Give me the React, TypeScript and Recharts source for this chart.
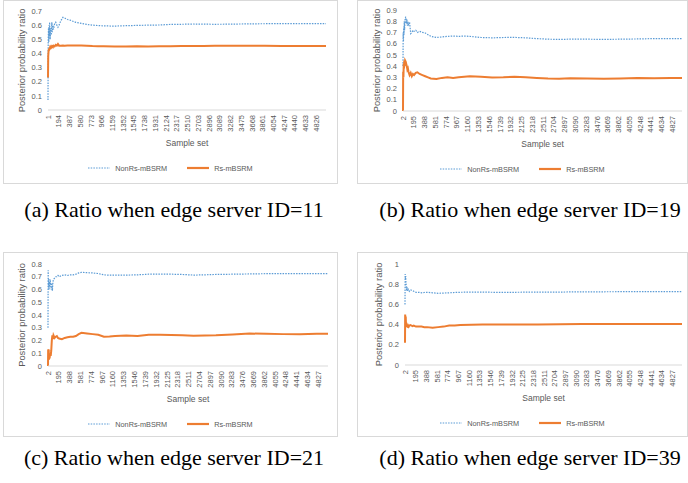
import { LineChart, Line, XAxis, YAxis, Legend, Label } from "recharts";

// x tick labels (every 193rd sample)
const ticksFrom1 = [1, 194, 387, 580, 773, 966, 1159, 1352, 1545, 1738, 1931, 2124, 2317, 2510, 2703, 2896, 3089, 3282, 3475, 3668, 3861, 4054, 4247, 4440, 4633, 4826];
const ticksFrom2 = [2, 195, 388, 581, 774, 967, 1160, 1353, 1546, 1739, 1932, 2125, 2318, 2511, 2704, 2897, 3090, 3283, 3476, 3669, 3862, 4055, 4248, 4441, 4634, 4827];

const yTicksA = [0, 0.1, 0.2, 0.3, 0.4, 0.5, 0.6, 0.7];
const yTicksB = [0, 0.1, 0.2, 0.3, 0.4, 0.5, 0.6, 0.7, 0.8, 0.9];
const yTicksC = [0, 0.1, 0.2, 0.3, 0.4, 0.5, 0.6, 0.7, 0.8];
const yTicksD = [0, 0.2, 0.4, 0.6, 0.8, 1];

// (a) edge server ID=11
const samplesA = [1, 5, 10, 15, 20, 25, 30, 40, 50, 60, 70, 80, 90, 100, 120, 140, 160, 180, 200, 230, 270, 300, 350, 400, 500, 600, 700, 800, 900, 1000, 1200, 1400, 1600, 1800, 2000, 2200, 2400, 2600, 2800, 3000, 3300, 3600, 3900, 4200, 4500, 4800, 5000];
const nonRsA = [0.07, 0.5, 0.58, 0.48, 0.6, 0.52, 0.62, 0.5, 0.58, 0.53, 0.62, 0.55, 0.6, 0.57, 0.61, 0.62, 0.6, 0.585, 0.6, 0.63, 0.655, 0.65, 0.64, 0.635, 0.62, 0.612, 0.605, 0.6, 0.597, 0.595, 0.593, 0.596, 0.598, 0.6, 0.601, 0.605, 0.606, 0.608, 0.607, 0.606, 0.607, 0.609, 0.61, 0.611, 0.61, 0.611, 0.61];
const rsA = [0.23, 0.38, 0.41, 0.43, 0.42, 0.44, 0.43, 0.445, 0.44, 0.45, 0.445, 0.45, 0.445, 0.455, 0.45, 0.46, 0.455, 0.466, 0.455, 0.455, 0.456, 0.455, 0.456, 0.456, 0.456, 0.456, 0.455, 0.452, 0.45, 0.45, 0.449, 0.449, 0.45, 0.449, 0.45, 0.451, 0.452, 0.453, 0.453, 0.454, 0.454, 0.454, 0.454, 0.453, 0.453, 0.453, 0.453];

// (b) edge server ID=19
const samplesB = [2, 5, 10, 15, 20, 25, 30, 40, 50, 60, 70, 80, 90, 100, 120, 140, 160, 180, 200, 230, 260, 300, 350, 400, 450, 500, 600, 700, 800, 900, 1000, 1100, 1200, 1400, 1600, 1800, 2000, 2200, 2400, 2600, 2800, 3000, 3300, 3600, 3900, 4200, 4500, 4800, 5001];
const nonRsB = [0.4, 0.7, 0.62, 0.75, 0.68, 0.8, 0.72, 0.82, 0.84, 0.78, 0.82, 0.76, 0.8, 0.77, 0.79, 0.69, 0.7, 0.72, 0.71, 0.72, 0.7, 0.71, 0.7, 0.695, 0.68, 0.665, 0.655, 0.66, 0.665, 0.668, 0.665, 0.668, 0.665, 0.655, 0.652, 0.655, 0.656, 0.652, 0.645, 0.64, 0.638, 0.64, 0.64, 0.638, 0.64, 0.642, 0.645, 0.645, 0.645];
const rsB = [0, 0.35, 0.3, 0.42, 0.38, 0.45, 0.4, 0.45, 0.44, 0.42, 0.4, 0.37, 0.38, 0.35, 0.32, 0.34, 0.31, 0.33, 0.32, 0.34, 0.345, 0.33, 0.32, 0.31, 0.3, 0.29, 0.285, 0.295, 0.3, 0.295, 0.3, 0.305, 0.31, 0.305, 0.298, 0.3, 0.305, 0.3, 0.295, 0.29, 0.288, 0.292, 0.29, 0.288, 0.29, 0.295, 0.292, 0.293, 0.295];

// (c) edge server ID=21
const samplesC = [2, 5, 10, 15, 20, 25, 30, 40, 50, 60, 70, 80, 90, 100, 120, 140, 160, 180, 200, 250, 300, 350, 400, 450, 500, 550, 600, 700, 800, 900, 1000, 1100, 1200, 1400, 1600, 1800, 2000, 2200, 2400, 2600, 2800, 3000, 3300, 3600, 3900, 4200, 4500, 4800, 5001];
const nonRsC = [0.3, 0.75, 0.62, 0.68, 0.6, 0.66, 0.62, 0.68, 0.63, 0.6, 0.65, 0.59, 0.66, 0.68, 0.69, 0.7, 0.7, 0.71, 0.7, 0.71, 0.715, 0.71, 0.715, 0.715, 0.72, 0.73, 0.735, 0.732, 0.73, 0.725, 0.715, 0.712, 0.712, 0.713, 0.715, 0.72, 0.72, 0.72, 0.718, 0.713, 0.715, 0.718, 0.72, 0.722, 0.724, 0.725, 0.725, 0.725, 0.725];
const rsC = [0, 0.13, 0.1, 0.13, 0.05, 0.08, 0.06, 0.1, 0.08, 0.12, 0.2, 0.24, 0.21, 0.24, 0.22, 0.23, 0.235, 0.22, 0.215, 0.21, 0.22, 0.225, 0.23, 0.23, 0.235, 0.25, 0.26, 0.255, 0.25, 0.245, 0.23, 0.232, 0.235, 0.24, 0.235, 0.245, 0.245, 0.243, 0.242, 0.238, 0.24, 0.242, 0.248, 0.255, 0.252, 0.25, 0.25, 0.252, 0.252];

// (d) edge server ID=39
const samplesD = [2, 5, 10, 15, 20, 25, 30, 40, 50, 60, 70, 80, 100, 120, 140, 160, 180, 200, 250, 300, 350, 400, 500, 600, 700, 800, 900, 1000, 1200, 1400, 1600, 1800, 2000, 2400, 2800, 3200, 3600, 4000, 4400, 4800, 5001];
const nonRsD = [0.6, 0.9, 0.85, 0.88, 0.8, 0.78, 0.75, 0.76, 0.73, 0.75, 0.74, 0.73, 0.745, 0.74, 0.735, 0.73, 0.725, 0.72, 0.72, 0.715, 0.718, 0.72, 0.715, 0.71, 0.712, 0.715, 0.718, 0.72, 0.722, 0.722, 0.72, 0.72, 0.72, 0.722, 0.722, 0.725, 0.725, 0.726, 0.727, 0.727, 0.727];
const rsD = [0.22, 0.5, 0.45, 0.48, 0.4, 0.42, 0.38, 0.4, 0.37, 0.39, 0.38, 0.39, 0.395, 0.39, 0.385, 0.39, 0.385, 0.38, 0.38, 0.38, 0.375, 0.375, 0.37, 0.375, 0.38, 0.39, 0.39, 0.395, 0.398, 0.4, 0.4, 0.4, 0.4, 0.4, 0.403, 0.405, 0.406, 0.406, 0.405, 0.406, 0.406];

const GRAY = "#595959";
const BLUE = "#5b9bd5";
const ORANGE = "#ed7d31";
const DOTS = "1.5 1.2";

const RotTick = (props: any) => {
  const { x, y, payload } = props;
  return (
    <text x={x} y={y} transform={`rotate(-90, ${x}, ${y})`} textAnchor="end" dy="0.35em" fontSize={7.5} fill={GRAY}>
      {payload.value}
    </text>
  );
};

const renderLegend = (props: any) => {
  const { payload } = props;
  return (
    <div style={{ display: "flex", justifyContent: "center", alignItems: "center", height: 14, gap: 20, fontSize: 7.3, color: GRAY }}>
      {payload.map((entry: any) => {
        const solid = entry.dataKey === "rs";
        return (
          <div key={entry.value} style={{ display: "flex", alignItems: "center" }}>
            <svg width={22} height={6}>
              <line x1={0} y1={3} x2={22} y2={3} stroke={entry.color} strokeWidth={solid ? 2.2 : 1.2} strokeDasharray={solid ? undefined : DOTS} />
            </svg>
            <span style={{ marginLeft: 5 }}>{entry.value}</span>
          </div>
        );
      })}
    </div>
  );
};

type Box = { left: number; top: number; width: number; height: number };
type Plot = { left: number; right: number; top: number; bottom: number };

function Panel(props: { box: Box; plot: Plot; samples: number[]; nonRs: number[]; rs: number[]; yTicks: number[]; xTicks: number[] }) {
  const { box, plot, samples, nonRs, rs, yTicks, xTicks } = props;
  const data = samples.map((s, i) => ({ sample: s, nonRs: nonRs[i], rs: rs[i] }));
  const ox = box.left + 1;
  const oy = box.top + 1;
  const W = box.width - 2;
  const H = box.height - 2;
  const legendTop = plot.bottom + 51 - oy;
  const margin = {
    top: plot.top - oy,
    left: plot.left - ox - 30,
    right: ox + W - plot.right,
    bottom: H - legendTop - 14,
  };
  return (
    <div style={{ position: "absolute", left: box.left, top: box.top, width: box.width, height: box.height, border: "1px solid #d9d9d9", boxSizing: "border-box" }}>
      <LineChart width={W} height={H} data={data} margin={margin}>
        <XAxis
          dataKey="sample"
          type="number"
          domain={[samples[0], samples[samples.length - 1]]}
          ticks={xTicks}
          interval={0}
          height={51}
          tickLine={false}
          axisLine={{ stroke: "#d9d9d9" }}
          tickSize={3}
          tickMargin={2}
          tick={<RotTick />}
        >
          <Label value="Sample set" position="insideBottom" offset={15} fill={GRAY} fontSize={8.5} />
        </XAxis>
        <YAxis
          width={30}
          domain={[0, yTicks[yTicks.length - 1]]}
          ticks={yTicks}
          interval={0}
          axisLine={false}
          tickLine={false}
          tickSize={4}
          tickMargin={2}
          tick={{ fill: GRAY, fontSize: 7.5 }}
        >
          <Label value="Posterior probability ratio" angle={-90} position="insideLeft" offset={4} style={{ textAnchor: "middle" }} fill={GRAY} fontSize={9.4} />
        </YAxis>
        <Legend verticalAlign="bottom" content={renderLegend} wrapperStyle={{ left: 0, width: W }} />
        <Line type="linear" dataKey="nonRs" name="NonRs-mBSRM" stroke={BLUE} strokeWidth={1.2} strokeDasharray={DOTS} dot={false} isAnimationActive={false} />
        <Line type="linear" dataKey="rs" name="Rs-mBSRM" stroke={ORANGE} strokeWidth={2} dot={false} isAnimationActive={false} />
      </LineChart>
    </div>
  );
}

const captionStyle = (left: number, top: number, width: number): React.CSSProperties => ({
  position: "absolute",
  left,
  top,
  width,
  textAlign: "center",
  fontFamily: "'Liberation Serif', 'Times New Roman', serif",
  fontSize: 22,
  lineHeight: "24px",
  color: "#000",
  whiteSpace: "nowrap",
});

export default function App() {
  return (
    <div style={{ position: "absolute", left: 0, top: 0, width: 688, height: 483, background: "#fff", fontFamily: "'Liberation Sans', Arial, sans-serif", overflow: "hidden" }}>
      <Panel box={{ left: 3, top: 0, width: 335, height: 184 }} plot={{ left: 48, right: 326, top: 11, bottom: 110 }} samples={samplesA} nonRs={nonRsA} rs={rsA} yTicks={yTicksA} xTicks={ticksFrom1} />
      <Panel box={{ left: 357, top: 0, width: 331, height: 184 }} plot={{ left: 403, right: 682, top: 10, bottom: 111 }} samples={samplesB} nonRs={nonRsB} rs={rsB} yTicks={yTicksB} xTicks={ticksFrom2} />
      <Panel box={{ left: 3, top: 252, width: 335, height: 185 }} plot={{ left: 48, right: 328, top: 264, bottom: 366 }} samples={samplesC} nonRs={nonRsC} rs={rsC} yTicks={yTicksC} xTicks={ticksFrom2} />
      <Panel box={{ left: 357, top: 252, width: 331, height: 185 }} plot={{ left: 405, right: 682, top: 264, bottom: 365 }} samples={samplesD} nonRs={nonRsD} rs={rsD} yTicks={yTicksD} xTicks={ticksFrom2} />
      <div style={captionStyle(0, 198, 348)}>(a) Ratio when edge server ID=11</div>
      <div style={captionStyle(360, 198, 340)}>(b) Ratio when edge server ID=19</div>
      <div style={captionStyle(0, 446, 348)}>(c) Ratio when edge server ID=21</div>
      <div style={captionStyle(360, 446, 340)}>(d) Ratio when edge server ID=39</div>
    </div>
  );
}
